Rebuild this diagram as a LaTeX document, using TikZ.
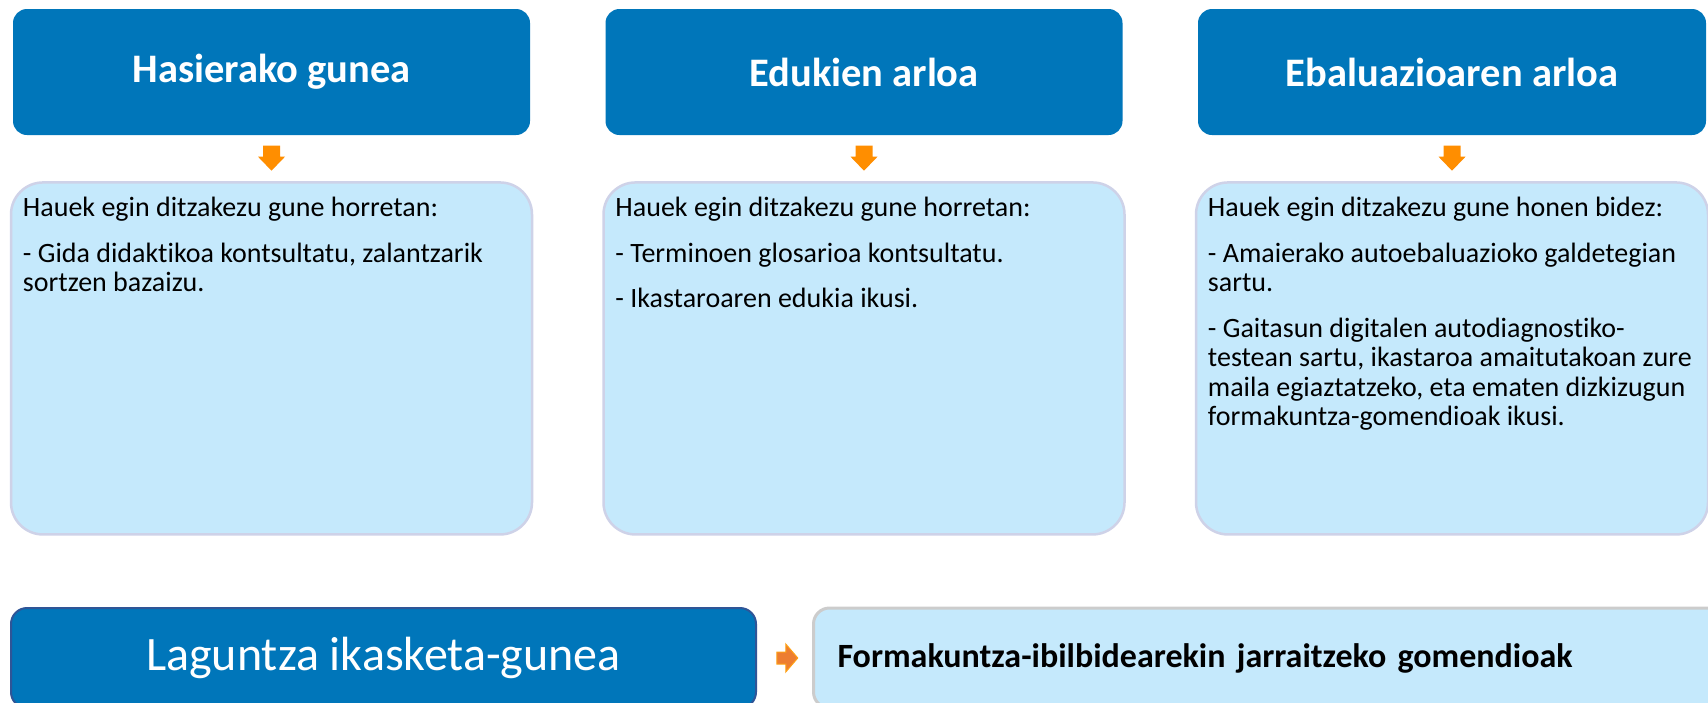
\documentclass[tikz,border=0pt]{standalone}
\usepackage{fontspec}
\setmainfont{Carlito}[Ligatures=NoCommon]
\usetikzlibrary{positioning,calc}
\definecolor{zoneblue}{RGB}{0,118,186}
\definecolor{zonelight}{RGB}{197,233,252}
\definecolor{zoneedge}{RGB}{206,210,232}
\definecolor{zoneorange}{RGB}{255,142,0}
\definecolor{helpedge}{RGB}{47,85,151}
\definecolor{greyedge}{RGB}{204,204,204}
\definecolor{helporange}{RGB}{237,125,49}
\definecolor{helprim}{RGB}{255,160,20}
\tikzset{zonehead/.style={fill=zoneblue, rounded corners=14pt, minimum width=517pt, minimum height=126pt, text=white, font=\fontsize{40.5}{48}\selectfont\bfseries}}
\tikzset{zonebox/.style={fill=zonelight, draw=zoneedge, line width=2.5pt, rounded corners=32pt, minimum width=521pt, minimum height=352pt}}
\tikzset{zonetext/.style={anchor=north west, align=left, inner sep=0pt, font=\fontsize{28}{29.5}\selectfont}}
\tikzset{helphead/.style={fill=zoneblue, draw=helpedge, line width=2pt, rounded corners=16pt, minimum width=745pt, minimum height=100pt, text=white, font=\fontsize{48}{56}\selectfont}}
\tikzset{helpbox/.style={fill=zonelight, draw=greyedge, line width=3pt, rounded corners=16pt, minimum height=100pt, text width=862pt, inner xsep=24pt, align=left, font=\fontsize{34}{40}\selectfont\bfseries}}
\tikzset{downarrow/.pic={\fill[zoneorange] (-8.5,-12.5) -- (8.5,-12.5) -- (8.5,-1.5) -- (13.5,-1.5) -- (0,12.5) -- (-13.5,-1.5) -- (-8.5,-1.5) -- cycle;}}
\tikzset{rightarrow/.pic={\filldraw[fill=helporange, draw=helprim, line width=1pt] (-10.5,-6) -- (-1.5,-6) -- (-1.5,-14) -- (10.5,0) -- (-1.5,14) -- (-1.5,6) -- (-10.5,6) -- cycle;}}

\begin{document}
\begin{tikzpicture}[x=1pt,y=-1pt]
   \useasboundingbox (0,0) rectangle (1708,702);
   \fill[white] (0,0) rectangle (1708,702);
   \clip (0,0) rectangle (1708,702);
   \node[zonehead] (h1) at (271.5,72) {Hasierako gunea};
   \node[zonehead] (h2) at (864,72) {Edukien arloa};
   \node[zonehead, minimum width=508pt] (h3) at (1452,72) {Ebaluazioaren arloa};
   \node[zonebox, below=46pt of h1] (b1) {};
   \node[zonebox, below=46pt of h2] (b2) {};
   \node[zonebox, minimum width=512pt, below=46pt of h3] (b3) {};
   \pic at ($(h1.south)!0.5!(b1.north)$) {downarrow};
   \pic at ($(h2.south)!0.5!(b2.north)$) {downarrow};
   \pic at ($(h3.south)!0.5!(b3.north)$) {downarrow};
   \node[zonetext] (t1) at ([shift={(13,16)}]b1.north west)
     {Hauek egin ditzakezu gune horretan:\\[16pt]
      - Gida didaktikoa kontsultatu, zalantzarik\\
      sortzen bazaizu.};
   \node[zonetext] (t2) at ([shift={(13,16)}]b2.north west)
     {Hauek egin ditzakezu gune horretan:\\[16pt]
      - Terminoen glosarioa kontsultatu.\\[16pt]
      - Ikastaroaren edukia ikusi.};
   \node[zonetext] (t3) at ([shift={(13,16)}]b3.north west)
     {Hauek egin ditzakezu gune honen bidez:\\[16pt]
      - Amaierako autoebaluazioko galdetegian\\
      sartu.\\[16pt]
      - Gaitasun digitalen autodiagnostiko-\\
      testean sartu, ikastaroa amaitutakoan zure\\
      maila egiaztatzeko, eta ematen dizkizugun\\
      formakuntza-gomendioak ikusi.};
   \node[helphead] (help) at (383.5,658) {Laguntza ikasketa-gunea};
   \node[helpbox, right=55pt of help] (reco) {Formakuntza-ibilbidearekin jarraitzeko gomendioak};
   \pic at ($(help.east)!0.55!(reco.west)$) {rightarrow};
\end{tikzpicture}
\end{document}
